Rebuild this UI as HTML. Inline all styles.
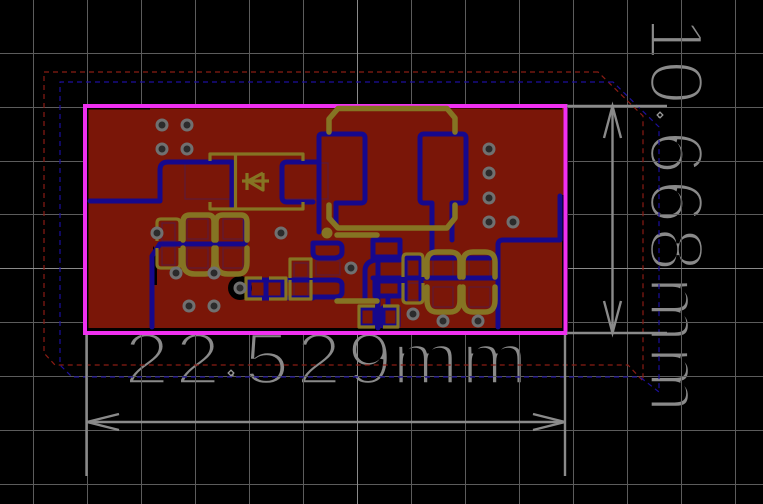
<!DOCTYPE html>
<html><head><meta charset="utf-8"><style>
html,body{margin:0;padding:0;background:#000;width:763px;height:504px;overflow:hidden}
svg{display:block}
.t text{font-family:"Liberation Sans",sans-serif;font-size:73px;fill:#8a8a8a;stroke:#000;stroke-width:3.4px;paint-order:fill stroke}
.t text.p{font-size:30px;stroke-width:0}
</style></head><body>
<svg width="763" height="504" viewBox="0 0 763 504" xmlns="http://www.w3.org/2000/svg">
<rect width="763" height="504" fill="#000"/>
<g class="t">
<text transform="translate(124,384) scale(1.12,1)">2</text>
<text transform="translate(175,384) scale(1.12,1)">2</text>
<text class="p" transform="translate(228,376)">.</text>
<text transform="translate(244,384) scale(1.12,1)">5</text>
<text transform="translate(296,384) scale(1.12,1)">2</text>
<text transform="translate(347,384) scale(1.12,1)">9</text>
<text transform="translate(392,384) scale(1.1,1)">m</text>
<text transform="translate(461,384) scale(1.1,1)">m</text>
<text transform="translate(650,16) rotate(90) scale(1.1,1.04)">1</text>
<text transform="translate(650,60) rotate(90) scale(1.1,1.04)">0</text>
<text class="p" transform="translate(658,112) rotate(90)">.</text>
<text transform="translate(650,130) rotate(90) scale(1.1,1.04)">6</text>
<text transform="translate(650,179) rotate(90) scale(1.1,1.04)">6</text>
<text transform="translate(650,227) rotate(90) scale(1.1,1.04)">8</text>
<text transform="translate(650,276) rotate(90) scale(1.1,1)">m</text>
<text transform="translate(650,346) rotate(90) scale(1.1,1)">m</text>
</g>
<g stroke="#5c5c5c" stroke-width="1">
<path d="M33.5 0V504M87.5 0V504M141.5 0V504M195.5 0V504M249.5 0V504M303.5 0V504M411.5 0V504M465.5 0V504M519.5 0V504M573.5 0V504M627.5 0V504M681.5 0V504M735.5 0V504"/>
<path d="M0 53.5H763M0 107.5H763M0 161.5H763M0 214.5H763M0 322.5H763M0 376.5H763M0 430.5H763M0 484.5H763"/>
</g>
<path d="M357.5 0V504M0 268.5H763" stroke="#8a8a8a" stroke-width="1"/>
<g fill="none" stroke-width="1.2" stroke-dasharray="5 4">
<path d="M598 72H44V353L55 365H628L643 381V116Z" stroke="#8a1c14"/>
<path d="M613 82H60V365L72 377H640L659 392V127Z" stroke="#1c0f9c"/>
</g>
<rect x="658" y="113" width="4" height="4" transform="rotate(45 660 115)" fill="#000" stroke="#999" stroke-width="1.3"/>
<rect x="229" y="371" width="4" height="4" transform="rotate(45 231 373)" fill="#000" stroke="#999" stroke-width="1.3"/>
<rect x="84" y="105" width="484" height="230" fill="#000"/>
<rect x="88.500" y="109.500" width="473.500" height="218.500" fill="#7a1608"/>
<path d="M150 108.500H500V111H150ZM562 108V195H564V108Z" fill="#7a1608"/>
<path d="M153 246V285L157 285V252Z" fill="#000"/>
<circle cx="240" cy="288" r="12" fill="#000"/>
<!-- pad outlines -->
<g fill="none" stroke="#5e1a38" stroke-width="1.2">
<rect x="185" y="164" width="47" height="35"/><rect x="282" y="163" width="46" height="36"/>
<rect x="162" y="223" width="13" height="18"/><rect x="162" y="247" width="13" height="18"/>
<rect x="187" y="219" width="21" height="20"/><rect x="187" y="248" width="21" height="20"/>
<rect x="223" y="219" width="20" height="20"/><rect x="223" y="248" width="20" height="20"/>
<rect x="433" y="257" width="20" height="20"/><rect x="433" y="287" width="20" height="20"/>
<rect x="469" y="257" width="21" height="20"/><rect x="469" y="287" width="21" height="20"/>
<rect x="408" y="260" width="12" height="17"/><rect x="408" y="283" width="12" height="17"/>
<rect x="294" y="263" width="14" height="14"/><rect x="294" y="282" width="14" height="14"/>
<rect x="316" y="261" width="24" height="14"/>
</g>
<!-- blue traces -->
<g fill="none" stroke="#16088c" stroke-width="5" stroke-linejoin="round" stroke-linecap="round">
<path d="M90 201H160V170Q160 162 168 162H232V207"/>
<path d="M313 202H287Q282 202 282 197V167Q282 162 287 162H318"/>
<path d="M319 232V137Q319 134 322 134H361Q365 134 365 138V199Q365 203 361 203H336V226"/>
<path d="M432 255V203H424Q420 203 420 199V138Q420 134 424 134H462Q466 134 466 138V199Q466 203 462 203H452V240"/>
<path d="M160 244H243Q246 244 246 240V218"/>
<path d="M152 327V256L160 244"/>
<path d="M249 280H283V298H249ZM266 280V298"/>
<path d="M288 280H313M288 298H313M313 243H337Q342 243 342 248V252Q342 257 335 258H320Q313 258 313 252ZM313 280H335Q342 280 342 285V292Q342 297 335 297H313"/>
<path d="M373 240H400V257H373ZM373 258H400"/>
<path d="M365 298V271Q365 262 375 260H400"/>
<path d="M373 278H497"/>
<path d="M375 281H400V296H375Z"/>
<path d="M378 260V328M388 296V308"/>
<path d="M360 308H375V326H360ZM383 308H398V326H383Z"/>
<path d="M498 327V245Q498 240 503 240H560V196"/>
<path d="M407 258H419Q421 258 421 262V300M405 300V262"/>
<path d="M430 258H456M465 258H490"/>
</g>
<rect x="85" y="106" width="480.500" height="227" fill="none" stroke="#f030f0" stroke-width="4"/>
<!-- olive silk -->
<g fill="none" stroke="#857423" stroke-width="5.500" stroke-linecap="round" stroke-linejoin="round">
<path d="M329 132V119L338 108.500H447L455 118V132"/>
<path d="M329 205V218L338 228H447L455 218V205"/>
<path d="M337 235H377M337 301H377"/>
<path d="M183 240V222Q183 215 190 215H208Q214 215 214 222V240"/>
<path d="M216 240V222Q216 215 223 215H241Q247 215 247 222V240"/>
<path d="M183 248V262Q183 274 195 274H205Q214 274 214 262V248"/>
<path d="M216 248V262Q216 274 228 274H238Q247 274 247 262V248"/>
<path d="M427 277V262Q427 252 437 252H450Q460 252 460 262V277"/>
<path d="M463 277V262Q463 252 473 252H485Q495 252 495 262V277"/>
<path d="M427 287V300Q427 312 437 312H450Q460 312 460 300V287"/>
<path d="M463 287V300Q463 312 473 312H485Q495 312 495 300V287"/>
</g>
<g fill="none" stroke="#857423" stroke-width="3.200" stroke-linecap="butt" stroke-linejoin="round">
<path d="M157 241V223Q157 219 161 219H176Q180 219 180 223V241"/>
<path d="M157 248V264Q157 268 161 268H176Q180 268 180 264V248"/>
<path d="M210 161V154H303V161M210 202V209H303V202M235.500 154V209"/>
<path d="M242 181H269M263 173V190L248 181L263 173M247 173V190"/>
<path d="M262 278H246V299H262M269 278H286V299H269"/>
<path d="M290 278V259H311V278M290 280V299H311V280"/>
<path d="M403 277V258Q403 254 407 254H419Q423 254 423 258V277M403 283V299Q403 303 407 303H419Q423 303 423 299V283"/>
<path d="M375 306H359V327H375M383 306H398V327H383"/>
</g>
<circle cx="327" cy="233" r="5.500" fill="#857423"/>
<!-- vias -->
<g fill="#2b2b2b" stroke="#707070" stroke-width="3">
<circle cx="162" cy="125" r="5"/><circle cx="187" cy="125" r="5"/><circle cx="162" cy="149" r="5"/><circle cx="187" cy="149" r="5"/>
<circle cx="489" cy="149" r="5"/><circle cx="489" cy="173" r="5"/><circle cx="489" cy="198" r="5"/><circle cx="489" cy="222" r="5"/><circle cx="513" cy="222" r="5"/>
<circle cx="157" cy="233" r="5"/><circle cx="281" cy="233" r="5"/><circle cx="176" cy="273" r="5"/><circle cx="214" cy="273" r="5"/><circle cx="240" cy="288" r="5"/>
<circle cx="189" cy="306" r="5"/><circle cx="214" cy="306" r="5"/><circle cx="351" cy="268" r="5"/><circle cx="413" cy="314" r="5"/><circle cx="443" cy="321" r="5"/><circle cx="478" cy="321" r="5"/>
</g>
<!-- dimensions -->
<g fill="none" stroke="#8a8a8a" stroke-width="2.400">
<path d="M86.500 335V476M565 335V476M87 422H565"/>
<path d="M119 414L87 422L119 430M533 414L565 422L533 430"/>
<path d="M567 106H667M567 333H667M612.500 106V333"/>
<path d="M604 138L612.500 106L621 138M604 301L612.500 333L621 301"/>
</g>
</svg>
</body></html>
